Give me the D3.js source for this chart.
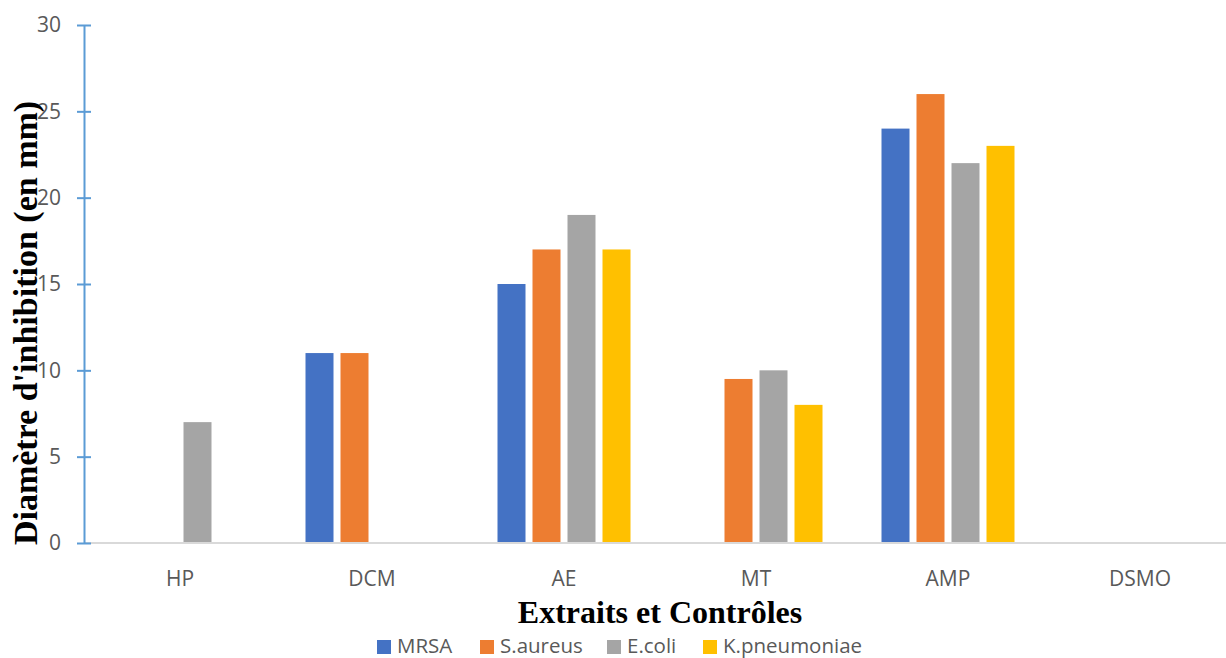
<!DOCTYPE html>
<html>
<head>
<meta charset="utf-8">
<script src="https://cdn.jsdelivr.net/npm/d3@7"></script>
<style>
  html, body { margin: 0; padding: 0; background: #ffffff; }
  svg { display: block; }
</style>
</head>
<body>
<svg id="chart" width="1226" height="658"></svg>
<script>
// Extracts and controls tested
const categories = ["HP", "DCM", "AE", "MT", "AMP", "DSMO"];
// Bacterial strains (series)
const seriesNames = ["MRSA", "S.aureus", "E.coli", "K.pneumoniae"];
// Inhibition diameter (mm) per strain, one value per category
const mrsa = [0, 11, 15, 0, 24, 0];
const saureus = [0, 11, 17, 9.5, 26, 0];
const ecoli = [7, 0, 19, 10, 22, 0];
const kpneumoniae = [0, 0, 17, 8, 23, 0];
const yTicks = [0, 5, 10, 15, 20, 25, 30];
const colors = ["#4472C4", "#ED7D31", "#A5A5A5", "#FFC000"];

const seriesValues = [mrsa, saureus, ecoli, kpneumoniae];

const svg = d3.select("#chart");
const margin = { left: 84, top: 25, bottom: 543, right: 1236 };

const x0 = d3.scaleBand().domain(categories).range([margin.left, margin.right]).padding(0);
const x1 = d3.scaleBand().domain(seriesNames).range([-70, 70]).paddingInner(0.2).paddingOuter(0.1);
const y = d3.scaleLinear().domain([0, 30]).range([margin.bottom, margin.top]);

const labelFont = "'Open Sans', 'Liberation Sans', sans-serif";
const titleFont = "'Liberation Serif', 'Times New Roman', serif";

// Bars
const rows = categories.map((c, i) => ({
  cat: c,
  vals: seriesNames.map((s, j) => ({ s, j, v: seriesValues[j][i] }))
}));

const groups = svg.append("g").selectAll("g")
  .data(rows).join("g")
  .attr("transform", d => `translate(${x0(d.cat) + x0.bandwidth() / 2},0)`);

groups.selectAll("rect")
  .data(d => d.vals.filter(v => v.v > 0))
  .join("rect")
  .attr("x", d => x1(d.s))
  .attr("width", x1.bandwidth())
  .attr("y", d => y(d.v))
  .attr("height", d => y(0) - y(d.v))
  .attr("fill", d => colors[d.j]);

// Baseline
svg.append("line")
  .attr("x1", margin.left).attr("x2", margin.right)
  .attr("y1", y(0)).attr("y2", y(0))
  .attr("stroke", "#d9d9d9").attr("stroke-width", 2);

// Category labels
const xAxis = d3.axisBottom(x0).tickSize(0).tickPadding(28);
const gx = svg.append("g").attr("transform", `translate(0,${y(0)})`).call(xAxis);
gx.select(".domain").remove();
gx.selectAll("text")
  .attr("fill", "#595959")
  .style("font-family", labelFont)
  .style("font-size", "21px");

// Value axis
const yAxis = d3.axisLeft(y).tickValues(yTicks).tickSize(7).tickPadding(16).tickSizeOuter(0);
const gy = svg.append("g").attr("transform", `translate(${margin.left},0)`).call(yAxis);
gy.select(".domain").attr("stroke", "#5B9BD5").attr("stroke-width", 2);
gy.selectAll(".tick line").attr("stroke", "#5B9BD5").attr("stroke-width", 2).attr("x1", 7).attr("x2", -7);
gy.selectAll("text")
  .attr("fill", "#595959")
  .style("font-family", labelFont)
  .style("font-size", "21px");

// Axis titles
svg.append("text")
  .attr("transform", "translate(37,323) rotate(-90)")
  .attr("text-anchor", "middle")
  .style("font-family", titleFont)
  .style("font-weight", "bold")
  .style("font-size", "34px")
  .attr("fill", "#000")
  .text("Diamètre d'inhibition (en mm)");

svg.append("text")
  .attr("x", 660).attr("y", 623)
  .attr("text-anchor", "middle")
  .style("font-family", titleFont)
  .style("font-weight", "bold")
  .style("font-size", "32px")
  .attr("fill", "#000")
  .text("Extraits et Contrôles");

// Legend
const legendX = [377, 480, 607, 703];
const legend = svg.append("g").selectAll("g")
  .data(seriesNames).join("g")
  .attr("transform", (d, i) => `translate(${legendX[i]},640)`);
legend.append("rect").attr("width", 14).attr("height", 14).attr("fill", (d, i) => colors[i]);
legend.append("text")
  .attr("x", 20).attr("y", 13)
  .attr("fill", "#595959")
  .style("font-family", labelFont)
  .style("font-size", "20.5px")
  .text(d => d);
</script>
</body>
</html>
